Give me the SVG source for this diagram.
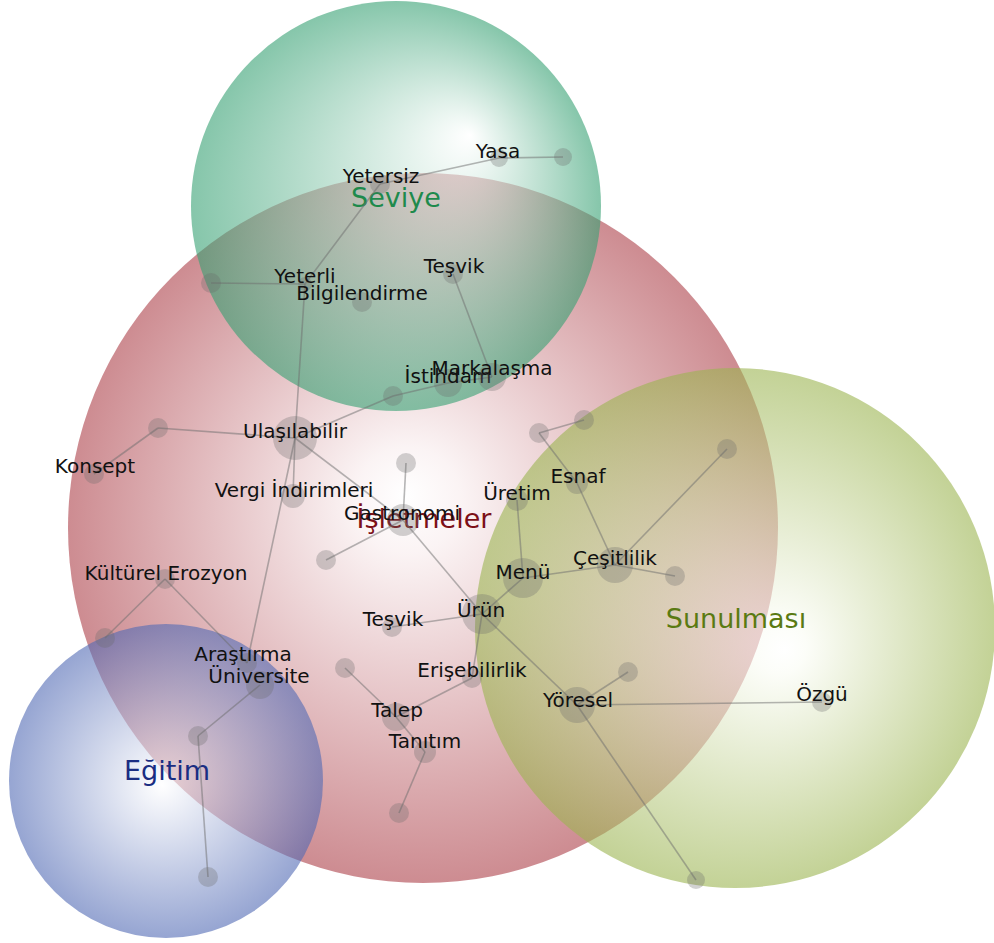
<svg xmlns="http://www.w3.org/2000/svg" width="994" height="943" viewBox="0 0 994 943">
  <defs>
    <radialGradient id="gIsletme" gradientUnits="userSpaceOnUse" cx="423" cy="528" r="355" fx="405" fy="495">
      <stop offset="0" stop-color="#ffffff"/>
      <stop offset="0.15" stop-color="#f8eced"/>
      <stop offset="1" stop-color="#ac3f48"/>
    </radialGradient>
    <radialGradient id="gSeviye" gradientUnits="userSpaceOnUse" cx="396" cy="206" r="205" fx="470" fy="135">
      <stop offset="0" stop-color="#ffffff"/>
      <stop offset="1" stop-color="#35a072"/>
    </radialGradient>
    <radialGradient id="gSunum" gradientUnits="userSpaceOnUse" cx="735" cy="628" r="260" fx="785" fy="650">
      <stop offset="0" stop-color="#ffffff"/>
      <stop offset="0.1" stop-color="#fafcf4"/>
      <stop offset="1" stop-color="#9bb450"/>
    </radialGradient>
    <radialGradient id="gEgitim" gradientUnits="userSpaceOnUse" cx="166" cy="781" r="157" fx="162" fy="785">
      <stop offset="0" stop-color="#ffffff"/>
      <stop offset="1" stop-color="#5069b4"/>
    </radialGradient>
  </defs>
  <style>
    .set { fill-opacity: 0.6; }
    .setlabel { font-family: "DejaVu Sans", "Liberation Sans", sans-serif; font-size: 27px; text-anchor: middle; }
    .edges line { stroke: #6e6e6e; stroke-opacity: 0.5; stroke-width: 1.6; }
    .node circle { fill: #6a6a6a; fill-opacity: 0.3; }
    .node text { font-family: "DejaVu Sans", "Liberation Sans", sans-serif; font-size: 20px; fill: #111111; text-anchor: middle; }
  </style>

  <!-- set circles -->
  <g id="sets">
    <circle id="set-isletmeler" class="set" cx="423" cy="528" r="355" fill="url(#gIsletme)"/>
    <circle id="set-seviye" class="set" cx="396" cy="206" r="205" fill="url(#gSeviye)"/>
    <circle id="set-sunulmasi" class="set" cx="735" cy="628" r="260" fill="url(#gSunum)"/>
    <circle id="set-egitim" class="set" cx="166" cy="781" r="157" fill="url(#gEgitim)"/>
  </g>
  <g id="set-labels">
    <text class="setlabel" x="396" y="207" fill="#1e8a4c">Seviye</text>
    <text class="setlabel" x="424" y="528" fill="#7c1018">İşletmeler</text>
    <text class="setlabel" x="736" y="628" fill="#5a7a12">Sunulması</text>
    <text class="setlabel" x="167" y="780" fill="#1a2d82">Eğitim</text>
  </g>

  <!-- connectors -->
  <g id="edges" class="edges">
    <line x1="380" y1="184" x2="499" y2="158"/>
    <line x1="499" y1="158" x2="563" y2="157"/>
    <line x1="380" y1="184" x2="305" y2="284"/>
    <line x1="305" y1="284" x2="211" y2="283"/>
    <line x1="305" y1="284" x2="295" y2="438"/>
    <line x1="453" y1="274" x2="492" y2="377"/>
    <line x1="393" y1="396" x2="448" y2="383"/>
    <line x1="448" y1="383" x2="492" y2="377"/>
    <line x1="295" y1="438" x2="393" y2="396"/>
    <line x1="295" y1="438" x2="158" y2="428"/>
    <line x1="158" y1="428" x2="94" y2="474"/>
    <line x1="295" y1="438" x2="293" y2="496"/>
    <line x1="295" y1="438" x2="403" y2="520"/>
    <line x1="403" y1="520" x2="406" y2="463"/>
    <line x1="403" y1="520" x2="326" y2="560"/>
    <line x1="403" y1="520" x2="482" y2="614"/>
    <line x1="295" y1="438" x2="247" y2="663"/>
    <line x1="165" y1="579" x2="105" y2="638"/>
    <line x1="165" y1="579" x2="247" y2="663"/>
    <line x1="260" y1="685" x2="198" y2="736"/>
    <line x1="198" y1="736" x2="208" y2="877"/>
    <line x1="539" y1="433" x2="584" y2="420"/>
    <line x1="539" y1="433" x2="577" y2="483"/>
    <line x1="577" y1="483" x2="615" y2="565"/>
    <line x1="615" y1="565" x2="727" y2="449"/>
    <line x1="615" y1="565" x2="675" y2="576"/>
    <line x1="523" y1="578" x2="615" y2="565"/>
    <line x1="517" y1="500" x2="523" y2="578"/>
    <line x1="523" y1="578" x2="482" y2="614"/>
    <line x1="392" y1="627" x2="482" y2="614"/>
    <line x1="482" y1="614" x2="472" y2="678"/>
    <line x1="472" y1="678" x2="396" y2="717"/>
    <line x1="345" y1="668" x2="396" y2="717"/>
    <line x1="396" y1="717" x2="425" y2="752"/>
    <line x1="425" y1="752" x2="399" y2="813"/>
    <line x1="482" y1="614" x2="577" y2="705"/>
    <line x1="577" y1="705" x2="628" y2="672"/>
    <line x1="577" y1="705" x2="822" y2="702"/>
    <line x1="577" y1="705" x2="696" y2="880"/>
  </g>

  <!-- nodes -->
  <g id="n-yasa" class="node"><circle cx="499" cy="158" r="9"/><text x="498" y="158">Yasa</text></g>
  <g id="n-yasa-end" class="node"><circle cx="563" cy="157" r="9"/></g>
  <g id="n-yetersiz" class="node"><circle cx="380" cy="184" r="10"/><text x="381" y="183">Yetersiz</text></g>
  <g id="n-yeterli" class="node"><circle cx="305" cy="284" r="7"/><text x="305" y="283">Yeterli</text></g>
  <g id="n-yeterli-left" class="node"><circle cx="211" cy="283" r="10"/></g>
  <g id="n-bilgilendirme" class="node"><circle cx="362" cy="302" r="10"/><text x="362" y="300">Bilgilendirme</text></g>
  <g id="n-tesvik-1" class="node"><circle cx="453" cy="274" r="10"/><text x="454" y="273">Teşvik</text></g>
  <g id="n-istihdam-left" class="node"><circle cx="393" cy="396" r="10"/></g>
  <g id="n-istihdam" class="node"><circle cx="448" cy="383" r="14"/><text x="448" y="383">İstihdam</text></g>
  <g id="n-markalasma" class="node"><circle cx="492" cy="377" r="14"/><text x="492" y="375">Markalaşma</text></g>
  <g id="n-ulasilabilir" class="node"><circle cx="295" cy="438" r="22"/><text x="295" y="438">Ulaşılabilir</text></g>
  <g id="n-konsept-link" class="node"><circle cx="158" cy="428" r="10"/></g>
  <g id="n-konsept" class="node"><circle cx="94" cy="474" r="10"/><text x="95" y="473">Konsept</text></g>
  <g id="n-vergi" class="node"><circle cx="293" cy="496" r="12"/><text x="294" y="497">Vergi İndirimleri</text></g>
  <g id="n-gastronomi-top" class="node"><circle cx="406" cy="463" r="10"/></g>
  <g id="n-gastronomi" class="node"><circle cx="403" cy="520" r="16"/><text x="402" y="520">Gastronomi</text></g>
  <g id="n-gastronomi-left" class="node"><circle cx="326" cy="560" r="10"/></g>
  <g id="n-uretim" class="node"><circle cx="517" cy="500" r="11"/><text x="517" y="500">Üretim</text></g>
  <g id="n-esnaf-top" class="node"><circle cx="539" cy="433" r="10"/></g>
  <g id="n-esnaf-top2" class="node"><circle cx="584" cy="420" r="10"/></g>
  <g id="n-esnaf" class="node"><circle cx="577" cy="483" r="11"/><text x="578" y="483">Esnaf</text></g>
  <g id="n-cesitlilik" class="node"><circle cx="615" cy="565" r="18"/><text x="615" y="565">Çeşitlilik</text></g>
  <g id="n-cesitlilik-up" class="node"><circle cx="727" cy="449" r="10"/></g>
  <g id="n-cesitlilik-right" class="node"><circle cx="675" cy="576" r="10"/></g>
  <g id="n-menu" class="node"><circle cx="523" cy="578" r="20"/><text x="523" y="579">Menü</text></g>
  <g id="n-urun" class="node"><circle cx="482" cy="614" r="20"/><text x="481" y="617">Ürün</text></g>
  <g id="n-tesvik-2" class="node"><circle cx="392" cy="627" r="10"/><text x="393" y="626">Teşvik</text></g>
  <g id="n-erisebilirlik" class="node"><circle cx="472" cy="678" r="10"/><text x="472" y="677">Erişebilirlik</text></g>
  <g id="n-talep-top" class="node"><circle cx="345" cy="668" r="10"/></g>
  <g id="n-talep" class="node"><circle cx="396" cy="717" r="14"/><text x="397" y="717">Talep</text></g>
  <g id="n-tanitim" class="node"><circle cx="425" cy="752" r="11"/><text x="425" y="748">Tanıtım</text></g>
  <g id="n-tanitim-down" class="node"><circle cx="399" cy="813" r="10"/></g>
  <g id="n-yoresel" class="node"><circle cx="577" cy="705" r="18"/><text x="578" y="707">Yöresel</text></g>
  <g id="n-yoresel-up" class="node"><circle cx="628" cy="672" r="10"/></g>
  <g id="n-ozgu" class="node"><circle cx="822" cy="702" r="10"/><text x="822" y="701">Özgü</text></g>
  <g id="n-yoresel-down" class="node"><circle cx="696" cy="880" r="9"/></g>
  <g id="n-kulturel" class="node"><circle cx="165" cy="579" r="10"/><text x="166" y="580">Kültürel Erozyon</text></g>
  <g id="n-kulturel-left" class="node"><circle cx="105" cy="638" r="10"/></g>
  <g id="n-arastirma" class="node"><circle cx="247" cy="663" r="10"/><text x="243" y="661">Araştırma</text></g>
  <g id="n-universite" class="node"><circle cx="260" cy="685" r="14"/><text x="259" y="683">Üniversite</text></g>
  <g id="n-universite-down" class="node"><circle cx="198" cy="736" r="10"/></g>
  <g id="n-egitim-down" class="node"><circle cx="208" cy="877" r="10"/></g>
</svg>
